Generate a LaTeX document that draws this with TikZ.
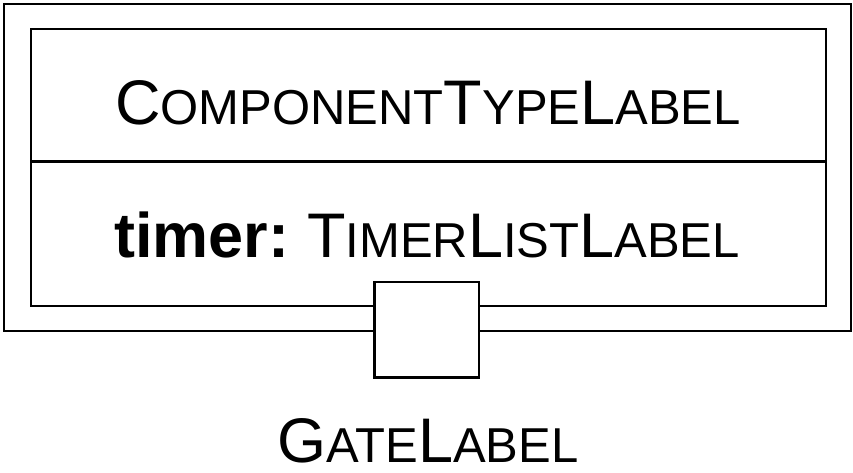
\documentclass[tikz,border=0pt]{standalone}
\usepackage{fontspec}
\setmainfont{Liberation Sans}
\newcommand{\Bg}[1]{{\fontsize{63}{64}\selectfont #1}}
\newcommand{\Sm}[1]{{\fontsize{49}{50}\selectfont #1}}
\tikzset{
  box/.style={draw=black, line width=2.2pt},
  lbl/.style={anchor=base, inner sep=0pt, font=\fontsize{49}{50}\selectfont}
}
\begin{document}
\begin{tikzpicture}[x=1pt,y=-1pt]
\useasboundingbox (0,0) rectangle (853,472);
\draw[box] (4,4) rectangle (851,331);
\draw[box, fill=white] (31,29) rectangle (826,306);
\draw[box] (31,161.5) -- (826,161.5);
\draw[box, fill=white] (374.5,282) rectangle (479,377.5);
\node[lbl] (type) at (428,124) {\Bg{C}\Sm{OMPONENT}\Bg{T}\Sm{YPE}\Bg{L}\Sm{ABEL}};
\node[lbl] (timer) at (427,257) {\Bg{\textbf{timer:}} \Bg{T}\Sm{IMER}\Bg{L}\Sm{IST}\Bg{L}\Sm{ABEL}};
\node[lbl] (gate) at (428,462) {\Bg{G}\Sm{ATE}\Bg{L}\Sm{ABEL}};
\end{tikzpicture}
\end{document}
